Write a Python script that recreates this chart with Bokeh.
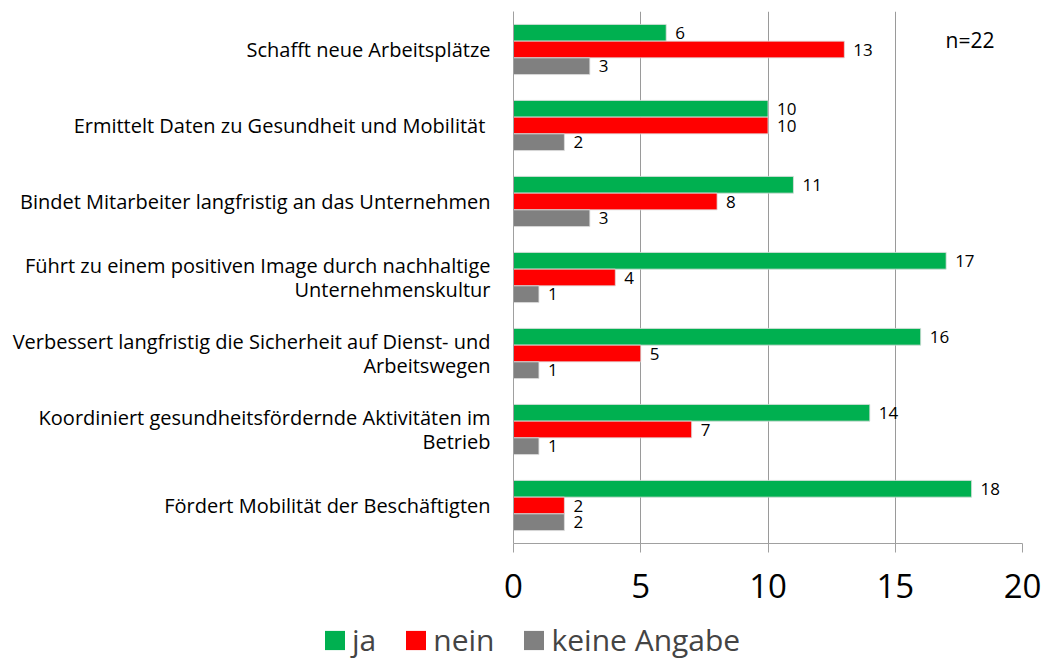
from bokeh.plotting import figure
from bokeh.layouts import column, row
from bokeh.models import ColumnDataSource, FactorRange, LabelSet, Label, Legend, LegendItem, FixedTicker
from bokeh.transform import dodge
from bokeh.core.properties import value
from bokeh.embed import file_html
from bokeh.resources import INLINE

categories = [
    "Schafft neue Arbeitsplätze",
    "Ermittelt  Daten zu Gesundheit und Mobilität",
    "Bindet Mitarbeiter langfristig an das Unternehmen",
    "Führt zu einem positiven Image durch nachhaltige\nUnternehmenskultur",
    "Verbessert langfristig die Sicherheit auf Dienst- und\nArbeitswegen",
    "Koordiniert gesundheitsfördernde Aktivitäten im\nBetrieb",
    "Fördert Mobilität der Beschäftigten",
]
ja = [6, 10, 11, 17, 16, 14, 18]
nein = [13, 10, 8, 4, 5, 7, 2]
keine = [3, 2, 3, 1, 1, 1, 2]
series_names = ["ja", "nein", "keine Angabe"]
colors = ["#00B050", "#FF0000", "#808080"]
x_ticks = [0, 5, 10, 15, 20]
n_text = "n=22"

FONT = "Open Sans"
AX = "#A0A0A0"

src = ColumnDataSource(dict(cat=categories, ja=ja, nein=nein, keine=keine,
                            ja_t=[str(v) for v in ja], nein_t=[str(v) for v in nein],
                            keine_t=[str(v) for v in keine]))

p = figure(width=1043, height=606, y_range=FactorRange(factors=categories[::-1]),
           x_range=(0, 20), output_backend="svg", toolbar_location=None,
           min_border_left=513, min_border_right=21, min_border_top=11, min_border_bottom=63)
p.outline_line_color = None
p.background_fill_color = "white"

h = 0.22
offs = [h, 0.0, -h]
fields = ["ja", "nein", "keine"]
for f, off, c in zip(fields, offs, colors):
    p.hbar(y=dodge("cat", off, range=p.y_range), right=f, left=0, height=h, source=src,
           fill_color=c, line_color="#DDDDDD", line_width=0.8)
    p.add_layout(LabelSet(x=f, y=dodge("cat", off, range=p.y_range), text=f + "_t", source=src,
                          x_offset=9, text_baseline="middle", text_font=value(FONT),
                          text_font_size="17px", text_color="#000000"))

# x axis
p.xaxis.ticker = FixedTicker(ticks=x_ticks)
p.xaxis.major_label_text_font = FONT
p.xaxis.major_label_text_font_size = "33px"
p.xaxis.major_label_text_color = "#000000"
p.xaxis.axis_line_color = AX
p.xaxis.major_tick_line_color = AX
p.xaxis.major_tick_out = 9
p.xaxis.major_tick_in = 0
p.xaxis.minor_tick_line_color = None
p.xaxis.major_label_standoff = 21

# y axis
p.yaxis.major_label_text_font = FONT
p.yaxis.major_label_text_font_size = "20px"
p.yaxis.major_label_text_color = "#000000"
p.yaxis.major_label_text_line_height = 0.88
p.yaxis.axis_line_color = AX
p.yaxis.major_tick_line_color = None
p.yaxis.major_label_standoff = 17

p.xgrid.ticker = FixedTicker(ticks=x_ticks)
p.xgrid.grid_line_color = "#9A9A9A"
p.ygrid.grid_line_color = None

p.add_layout(Label(x=432, y=490, x_units="screen", y_units="screen", text=n_text,
                   text_font=FONT, text_font_size="21px", text_color="#000000"))

# legend strip below the chart
lg = figure(width=1043, height=54, x_range=(0, 1), y_range=(0, 1), output_backend="svg",
            toolbar_location=None, x_axis_type=None, y_axis_type=None,
            min_border_left=0, min_border_right=0, min_border_top=0, min_border_bottom=0)
lg.outline_line_color = None
lg.xgrid.grid_line_color = None
lg.ygrid.grid_line_color = None
swatch = ColumnDataSource(dict(y=[-5], right=[0]))
items = []
for n, c in zip(series_names, colors):
    r = lg.hbar(y="y", right="right", left=0, height=0.5, source=swatch, fill_color=c, line_color=None)
    items.append(LegendItem(label=n, renderers=[r]))
legend = Legend(items=items, orientation="horizontal", location=(322, 0),
                label_text_font=FONT, label_text_font_size="30px",
                glyph_width=25, glyph_height=24, spacing=27, label_standoff=5,
                border_line_color=None, background_fill_alpha=0, padding=0, margin=0)
lg.add_layout(legend, "center")

open("out.html", "w").write(file_html(column(row(p), row(lg), spacing=0), INLINE))
